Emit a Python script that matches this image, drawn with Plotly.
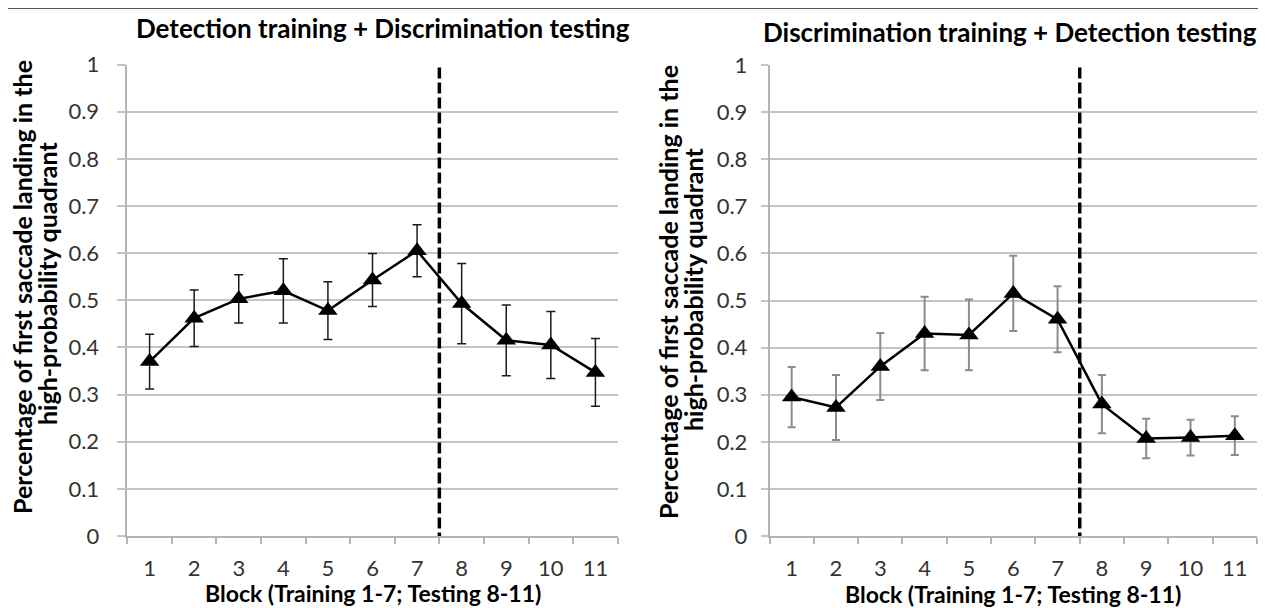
import plotly.graph_objects as go

blocks = [str(i) for i in range(1, 12)]

left_title = "Detection training + Discrimination testing"
right_title = "Discrimination training + Detection testing"
y_title_lines = ["Percentage of first saccade landing in the", "high-probability quadrant"]
x_title = "Block (Training 1-7; Testing 8-11)"

left_mean = [0.370, 0.462, 0.503, 0.520, 0.478, 0.543, 0.605, 0.493, 0.415, 0.405, 0.347]
left_err = [0.058, 0.060, 0.051, 0.068, 0.061, 0.056, 0.055, 0.085, 0.075, 0.071, 0.072]

right_mean = [0.295, 0.273, 0.360, 0.430, 0.427, 0.515, 0.460, 0.280, 0.207, 0.209, 0.213]
right_err = [0.064, 0.069, 0.071, 0.078, 0.075, 0.080, 0.070, 0.062, 0.042, 0.038, 0.041]

y_ticks = [0, 0.1, 0.2, 0.3, 0.4, 0.5, 0.6, 0.7, 0.8, 0.9, 1]
y_ticktext = ["0", "0.1", "0.2", "0.3", "0.4", "0.5", "0.6", "0.7", "0.8", "0.9", "1"]

FONT = "Lato"
PAGE_OFFSET = 8  # default body margin of the html page
W, H = 1266 - PAGE_OFFSET, 608 - PAGE_OFFSET

def px(v):
    return (v - PAGE_OFFSET) / W

def py(v):
    return 1 - (v - PAGE_OFFSET) / H

fig = go.Figure()

fig.add_trace(go.Scatter(
    x=blocks, y=left_mean, xaxis="x", yaxis="y",
    mode="lines+markers",
    line=dict(color="black", width=2.5),
    marker=dict(symbol="triangle-up", size=17, color="black"),
    error_y=dict(type="data", array=left_err, visible=True, color="#1a1a1a", thickness=1.5, width=4.5),
    showlegend=False,
))
fig.add_trace(go.Scatter(
    x=blocks, y=right_mean, xaxis="x2", yaxis="y2",
    mode="lines+markers",
    line=dict(color="black", width=2.5),
    marker=dict(symbol="triangle-up", size=17, color="black"),
    error_y=dict(type="data", array=right_err, visible=True, color="#8c8c8c", thickness=2, width=4),
    showlegend=False,
))

grid = "#c4c4c4"
axis_line = "#b4b4b4"
tickfont = dict(family=FONT, size=22, color="#333333")

def xaxis(domain, anchor):
    return dict(
        domain=domain, anchor=anchor, type="category", automargin=False,
        range=[-0.5, 10.5], showgrid=False,
        showline=True, linecolor=axis_line, linewidth=1.5,
        ticks="outside", tickson="boundaries", ticklen=6, tickcolor=axis_line, tickwidth=1.5,
        tickfont=tickfont, ticklabelstandoff=12, fixedrange=True,
    )

def yaxis(domain, anchor, ticklen, standoff):
    return dict(
        domain=domain, anchor=anchor, range=[0, 1], automargin=False,
        tickvals=y_ticks, ticktext=y_ticktext,
        showgrid=True, gridcolor=grid, gridwidth=1.5,
        showline=True, linecolor=axis_line, linewidth=1.5,
        ticks="outside", ticklen=ticklen, tickcolor=grid, tickwidth=1.5,
        tickfont=tickfont, ticklabelstandoff=standoff, zeroline=False, fixedrange=True,
    )

yd_left = [py(536), py(64.5)]
yd_right = [py(536), py(65)]

fig.update_layout(
    width=W, height=H,
    margin=dict(l=0, r=0, t=0, b=0, pad=0, autoexpand=False),
    paper_bgcolor="white", plot_bgcolor="white",
    font=dict(family=FONT, color="black"),
    xaxis=xaxis([px(127.3), px(617.7)], "y"),
    yaxis=yaxis(yd_left, "x", 9, 13),
    xaxis2=xaxis([px(769.5), px(1257)], "y2"),
    yaxis2=yaxis(yd_right, "x2", 7, 9),
)

# dashed separators between training and testing
for xr, yr in (("x", "y"), ("x2", "y2")):
    fig.add_shape(type="line", xref=xr, yref=yr, x0=6.5, x1=6.5, y0=-0.016, y1=1.008,
                  line=dict(color="black", width=3.5, dash="11px,4px"))

# top border
fig.add_shape(type="line", xref="paper", yref="paper", x0=0, x1=1, y0=1, y1=1,
              line=dict(color="#555555", width=2))

bold = dict(family=FONT, size=26, color="black", weight="bold")
fig.add_annotation(text=left_title, x=px(383), y=py(28), xref="paper", yref="paper",
                   showarrow=False, font=bold, xanchor="center", yanchor="middle")
fig.add_annotation(text=right_title, x=px(1010), y=py(32), xref="paper", yref="paper",
                   showarrow=False, font=bold, xanchor="center", yanchor="middle")

ylab = dict(family=FONT, size=25, color="black", weight="bold")
for line, xl, yl, xr, yr in zip(y_title_lines, (22, 47), (287, 284), (668, 693), (292, 290)):
    fig.add_annotation(text=line, x=px(xl), y=py(yl), xref="paper", yref="paper",
                       showarrow=False, font=ylab, textangle=-90, xanchor="center", yanchor="middle")
    fig.add_annotation(text=line, x=px(xr), y=py(yr), xref="paper", yref="paper",
                       showarrow=False, font=ylab, textangle=-90, xanchor="center", yanchor="middle")

xlab = dict(family=FONT, size=23, color="black", weight="bold")
fig.add_annotation(text=x_title, x=px(373), y=py(593), xref="paper", yref="paper",
                   showarrow=False, font=xlab, xanchor="center", yanchor="middle")
fig.add_annotation(text=x_title, x=px(1013), y=py(594), xref="paper", yref="paper",
                   showarrow=False, font=xlab, xanchor="center", yanchor="middle")

fig.write_html("out.html")
